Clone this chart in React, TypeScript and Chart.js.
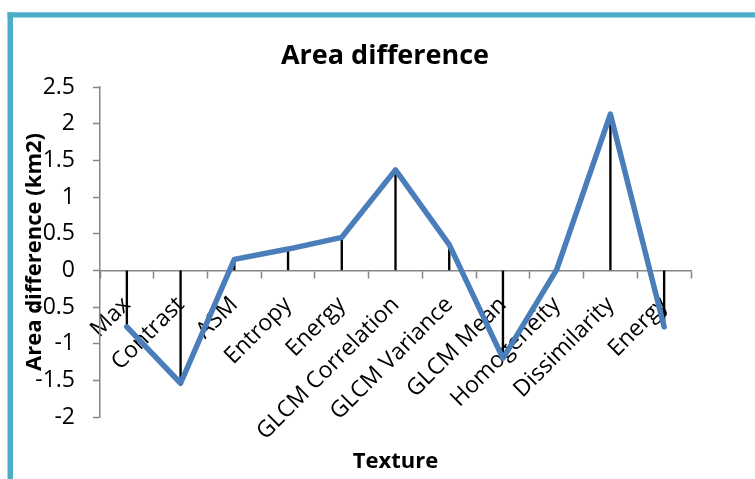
import React, { useEffect, useRef } from "react";
import { Chart, registerables } from "chart.js";

Chart.register(...registerables);

const categories = [
  "Max",
  "Contrast",
  "ASM",
  "Entropy",
  "Energy",
  "GLCM Correlation",
  "GLCM Variance",
  "GLCM Mean",
  "Homogeneity",
  "Dissimilarity",
  "Energy",
];
const areaDifference = [-0.77, -1.54, 0.15, 0.29, 0.45, 1.37, 0.35, -1.2, 0.01, 2.13, -0.77];
const yMin = -2;
const yMax = 2.5;
const yStep = 0.5;
const chartTitle = "Area difference";
const xTitle = "Texture";
const yTitle = "Area difference (km2)";

const TICK_FONT = { family: "'Open Sans', sans-serif", size: 23 };
const BOLD_FONT = "'Open Sans', sans-serif";
const AXIS_GRAY = "#868686";

const framePlugin = {
  id: "frame",
  beforeDraw(chart: any) {
    const ctx = chart.ctx;
    ctx.save();
    ctx.fillStyle = "#ffffff";
    ctx.fillRect(0, 0, chart.width, chart.height);
    ctx.fillStyle = "#4BADC7";
    ctx.fillRect(7.5, 12.3, chart.width - 7.5, 5.2);
    ctx.fillRect(7.5, 12.3, 5.5, chart.height - 12.3);
    ctx.restore();
  },
};

export default function App() {
  const ref = useRef<HTMLCanvasElement | null>(null);
  useEffect(() => {
    if (!ref.current) return;
    const chart = new Chart(ref.current, {
      type: "line",
      data: {
        labels: categories,
        datasets: [
          {
            type: "line",
            data: areaDifference,
            borderColor: "#4A7EBB",
            borderWidth: 5.5,
            pointRadius: 0,
            tension: 0,
            borderJoinStyle: "round",
            borderCapStyle: "round",
            order: 0,
          } as any,
          {
            type: "bar",
            data: areaDifference,
            backgroundColor: "#000000",
            borderWidth: 0,
            barThickness: 1.7,
            order: 1,
          } as any,
        ],
      },
      options: {
        responsive: false,
        animation: false,
        events: [],
        layout: { padding: { left: 15, right: 0, top: 0, bottom: 0 } },
        plugins: {
          legend: { display: false },
          tooltip: { enabled: false },
          title: {
            display: true,
            text: chartTitle,
            color: "#000",
            font: { family: BOLD_FONT, size: 27, weight: "bold", lineHeight: 1.2 },
            padding: { top: 39.8, bottom: 14.8 },
          },
          subtitle: {
            display: true,
            position: "bottom",
            fullSize: false,
            text: xTitle,
            color: "#000",
            font: { family: BOLD_FONT, size: 22, weight: "bold", lineHeight: 1.2 },
            padding: { top: 31.8, bottom: 3.8 },
          },
        },
        scales: {
          x: {
            type: "category",
            position: { y: 0 } as any,
            offset: true,
            grid: {
              offset: true,
              drawOnChartArea: false,
              drawTicks: true,
              tickLength: 7,
              tickColor: AXIS_GRAY,
              tickWidth: 1.5,
            },
            border: { display: true, color: AXIS_GRAY, width: 1.5 },
            ticks: {
              autoSkip: false,
              maxRotation: 45,
              minRotation: 45,
              color: "#000",
              font: TICK_FONT,
              padding: 14,
            },
          },
          y: {
            type: "linear",
            position: "left",
            min: yMin,
            max: yMax,
            afterFit(scale: any) {
              scale.width = 85;
            },
            grid: {
              drawOnChartArea: false,
              drawTicks: true,
              tickLength: 7,
              tickColor: AXIS_GRAY,
              tickWidth: 1.5,
            },
            border: { display: true, color: AXIS_GRAY, width: 1.5 },
            ticks: {
              stepSize: yStep,
              color: "#000",
              font: TICK_FONT,
              padding: 18,
              callback: (v: any) => String(Math.round(Number(v) * 10) / 10),
            },
            title: {
              display: true,
              text: yTitle,
              color: "#000",
              font: { family: BOLD_FONT, size: 22, weight: "bold", lineHeight: 1.2 },
              padding: { top: 6.8, bottom: 0 },
            },
          },
          yRight: {
            type: "linear",
            position: "right",
            display: true,
            afterFit(scale: any) {
              scale.width = 64;
            },
            grid: { display: false, drawTicks: false },
            border: { display: false },
            ticks: { display: false },
          },
        },
      },
      plugins: [framePlugin],
    } as any);
    return () => chart.destroy();
  }, []);
  return (
    <div style={{ position: "fixed", left: 0, top: 0, width: 755, height: 479, background: "#fff" }}>
      <canvas ref={ref} width={755} height={479} style={{ display: "block" }} />
    </div>
  );
}
